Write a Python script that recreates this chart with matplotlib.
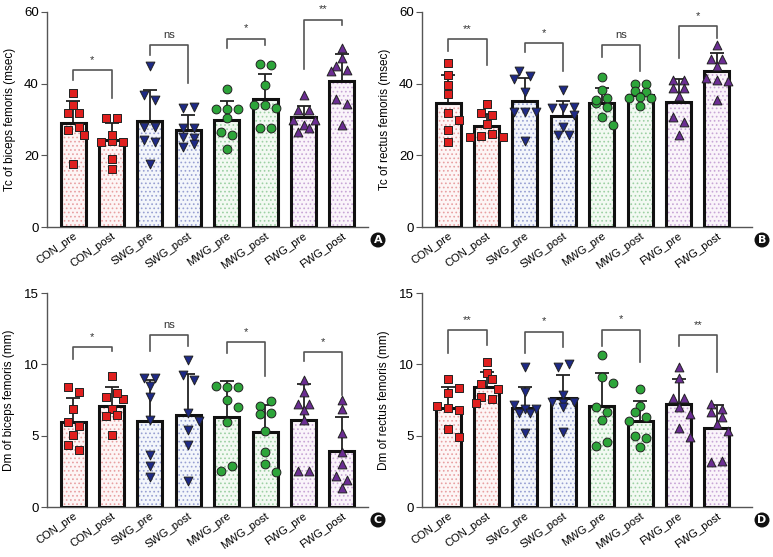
import numpy as np
import matplotlib.pyplot as plt
from matplotlib.patches import Circle

plt.rcParams['font.family'] = ['Liberation Sans', 'DejaVu Sans']
plt.rcParams['hatch.linewidth'] = 0.7

groups = ['CON_pre', 'CON_post', 'SWG_pre', 'SWG_post',
          'MWG_pre', 'MWG_post', 'FWG_pre', 'FWG_post']

# panel A: Tc of biceps femoris
tcb_mean = [29.1, 24.2, 29.7, 27.1, 30.0, 35.6, 30.6, 40.8]
tcb_top = [35.3, 28.9, 38.2, 31.3, 35.3, 42.7, 33.8, 48.3]
tcb_pts = [
    [37.5, 34.0, 31.7, 31.7, 27.1, 27.8, 25.8, 17.7],
    [30.3, 30.3, 23.8, 24.0, 25.8, 23.8, 19.1, 16.3],
    [44.8, 36.8, 35.4, 28.0, 28.0, 24.3, 23.8, 17.7],
    [33.1, 33.6, 27.5, 27.7, 25.2, 24.9, 22.4, 23.1],
    [38.4, 32.9, 32.9, 32.9, 30.3, 26.4, 25.7, 21.7],
    [45.4, 45.1, 39.5, 34.0, 34.0, 33.1, 27.5, 27.5],
    [36.8, 32.6, 32.6, 30.0, 28.5, 30.0, 26.6, 27.5],
    [49.9, 47.1, 45.0, 43.4, 43.7, 35.6, 34.2, 28.5],
]
tcb_sig = ['*', 'ns', '*', '**']
tcb_bracket = [43.7, 50.7, 52.5, 57.8]
tcb_legs = [(41.0, 36.1), (48.0, 40.1), (49.9, 50.7), (44.1, 56.3)]

# panel B: Tc of rectus femoris
tcr_mean = [34.5, 28.3, 35.2, 31.0, 34.7, 36.8, 35.0, 43.4]
tcr_top = [42.5, 31.6, 41.5, 35.3, 38.9, 37.5, 41.3, 48.5]
tcr_pts = [
    [45.7, 42.4, 39.6, 37.0, 31.7, 29.9, 27.2, 23.8],
    [34.2, 31.7, 31.3, 28.7, 25.2, 25.4, 25.9, 25.2],
    [43.4, 41.3, 42.2, 37.6, 32.2, 32.0, 32.0, 24.0],
    [38.2, 33.1, 33.1, 33.6, 31.3, 25.7, 25.7, 28.0],
    [42.0, 38.1, 34.5, 35.4, 36.1, 33.6, 30.8, 28.5],
    [40.0, 40.0, 38.0, 37.8, 36.0, 36.2, 36.0, 33.8],
    [40.9, 41.0, 38.7, 36.6, 30.8, 29.4, 25.7, 38.7],
    [50.8, 46.8, 46.8, 45.0, 41.5, 41.0, 40.8, 35.4],
]
tcr_sig = ['**', '*', 'ns', '*']
tcr_bracket = [52.4, 51.3, 50.8, 56.0]
tcr_legs = [(49.0, 45.2), (48.7, 43.4), (47.4, 43.4), (47.1, 52.7)]

# panel C: Dm of biceps femoris
dmb_mean = [5.98, 7.10, 6.00, 6.45, 6.33, 5.23, 6.12, 3.95]
dmb_top = [7.64, 8.41, 8.93, 9.32, 8.81, 7.17, 8.62, 6.31]
dmb_pts = [
    [8.39, 8.04, 6.87, 5.96, 5.65, 5.02, 4.37, 4.02],
    [9.21, 7.59, 7.69, 7.99, 6.87, 6.36, 6.43, 5.02],
    [9.04, 9.04, 8.46, 7.69, 6.12, 3.67, 2.85, 2.10],
    [10.28, 9.28, 8.93, 6.59, 6.00, 5.42, 4.32, 1.80],
    [8.50, 8.39, 8.41, 7.52, 7.01, 5.96, 2.50, 2.85],
    [7.10, 7.41, 6.52, 6.59, 5.35, 3.83, 3.04, 2.43],
    [8.93, 8.04, 7.24, 7.24, 6.78, 6.12, 2.50, 2.50],
    [7.52, 6.87, 5.19, 3.83, 3.01, 2.20, 1.87, 1.33],
]
dmb_sig = ['*', 'ns', '*', '*']
dmb_bracket = [11.19, 12.03, 11.54, 10.84]
dmb_legs = [(10.4, 10.9), (10.9, 11.3), (10.8, 9.16), (10.2, 7.87)]

# panel D: Dm of rectus femoris
dmr_mean = [6.96, 8.39, 6.96, 7.66, 7.08, 6.05, 7.20, 5.52]
dmr_top = [8.43, 9.48, 8.39, 9.25, 9.39, 7.43, 8.94, 7.15]
dmr_pts = [
    [8.97, 8.36, 7.97, 7.08, 6.92, 6.80, 5.45, 4.94],
    [10.18, 9.36, 8.60, 8.94, 8.27, 7.69, 7.55, 7.27],
    [9.83, 8.08, 7.15, 6.85, 6.85, 6.57, 5.17, 6.60],
    [9.83, 9.99, 7.85, 7.38, 7.31, 7.34, 7.00, 5.24],
    [10.65, 9.13, 8.67, 7.03, 6.69, 6.10, 4.29, 4.59],
    [8.27, 7.10, 6.69, 6.34, 6.03, 5.01, 4.87, 4.19],
    [9.83, 9.06, 7.62, 7.62, 7.03, 6.52, 5.52, 4.94],
    [7.22, 6.64, 6.85, 6.34, 5.82, 5.33, 3.12, 3.24],
]
dmr_sig = ['**', '*', '*', '**']
dmr_bracket = [12.39, 12.28, 12.44, 12.04]
dmr_legs = [(10.76, 11.34), (10.76, 11.2), (11.27, 10.18), (11.27, 9.48)]

pt_color = ['#e0201f', '#e0201f', '#1e2a86', '#1e2a86',
            '#2da53a', '#2da53a', '#6b2d93', '#6b2d93']
pt_marker = ['s', 's', 'v', 'v', 'o', 'o', '^', '^']
bar_face = ['#fdf5f5', '#fdf5f5', '#f3f6fb', '#f3f6fb',
            '#f2f9f2', '#f2f9f2', '#faf4fa', '#faf4fa']
dot_color = ['#e8a0a2', '#e8a0a2', '#98a0d2', '#98a0d2',
             '#9dd0a4', '#9dd0a4', '#c8a6d6', '#c8a6d6']


def swarm(vals, ppu, step_px, diam=9.0):
    # Prism-like scatter: near-equal values share a row, others dodge collisions
    vals = np.asarray(vals, float) * ppu
    order = np.argsort(-vals)
    rows = []
    for idx in order:
        if rows and vals[rows[-1][0]] - vals[idx] < diam * 0.6:
            rows[-1].append(idx)
        else:
            rows.append([idx])
    offs = np.zeros(len(vals))
    placed = []
    for row in rows:
        n = len(row)
        if n > 1:
            for k, idx in enumerate(sorted(row)):
                offs[idx] = (k - (n - 1) / 2.0) * step_px
                placed.append(idx)
            continue
        idx = row[0]
        best, best_d = 0.0, -1.0
        for c in [0, 1, -1]:
            ox = c * step_px
            d = min([np.hypot(ox - offs[j], vals[idx] - vals[j]) for j in placed],
                    default=99.0)
            if d >= diam:
                best = ox
                break
            if d > best_d + 1.0:
                best, best_d = ox, d
        offs[idx] = best
        placed.append(idx)
    return offs


px = 1 / 773.0
py = 1 / 557.0
fig = plt.figure(figsize=(7.73, 5.57), dpi=100)

panels = [
    (tcb_mean, tcb_top, tcb_pts, tcb_sig, tcb_bracket, tcb_legs,
     'Tc of biceps femoris (msec)', 60, 20, (47, 368, 12, 227), 'A'),
    (tcr_mean, tcr_top, tcr_pts, tcr_sig, tcr_bracket, tcr_legs,
     'Tc of rectus femoris (msec)', 60, 20, (422, 752, 12, 227), 'B'),
    (dmb_mean, dmb_top, dmb_pts, dmb_sig, dmb_bracket, dmb_legs,
     'Dm of biceps femoris (mm)', 15, 5, (47, 368, 293, 507), 'C'),
    (dmr_mean, dmr_top, dmr_pts, dmr_sig, dmr_bracket, dmr_legs,
     'Dm of rectus femoris (mm)', 15, 5, (422, 752, 293, 507), 'D'),
]

x = np.arange(len(groups))
bw = 0.65
upx = 38.4  # pixels per category

for mean, top, pts, sig, brk, legs, ylab, ymax, ystep, box, letter in panels:
    l, r, t, b = box
    ax = fig.add_axes([l * px, 1 - b * py, (r - l) * px, (b - t) * py])
    ax.set_xlim(-0.68, (r - l) / upx - 0.68)
    ax.set_ylim(0, ymax)

    # error bars (upper only)
    err = np.array(top) - np.array(mean)
    ax.errorbar(x, mean, yerr=[np.zeros(8), err], fmt='none', ecolor='#222222',
                elinewidth=1.3, capsize=5, capthick=1.3, zorder=1)
    ax.bar(x, mean, bw, color=bar_face, edgecolor=dot_color, hatch='....',
           linewidth=0, zorder=2)
    ax.bar(x, mean, bw, fill=False, edgecolor='#111111', linewidth=2.2, zorder=3)

    ppu = (b - t) / ymax
    for i in range(8):
        offs = swarm(pts[i], ppu, 11.0) / upx
        ax.scatter(x[i] + offs, pts[i], s=40, marker=pt_marker[i], c=pt_color[i],
                   edgecolors='#222222', linewidths=0.7, zorder=4, clip_on=False)

    for g in range(4):
        x0, x1 = x[2 * g], x[2 * g + 1]
        ax.plot([x0, x0, x1, x1], [legs[g][0], brk[g], brk[g], legs[g][1]],
                color='#555555', lw=1.2, zorder=5)
        dy = ymax * 0.025
        ax.text((x0 + x1) / 2, brk[g] + dy, sig[g], ha='center', va='bottom',
                fontsize=8, color='#333333')

    for s in ['top', 'right']:
        ax.spines[s].set_visible(False)
    for s in ['left', 'bottom']:
        ax.spines[s].set_color('#555555')
        ax.spines[s].set_linewidth(1.0)
    ax.set_yticks(np.arange(0, ymax + 1, ystep))
    ax.tick_params(axis='y', length=4, color='#555555', labelsize=9.5, pad=2)
    ax.tick_params(axis='x', length=0, labelsize=8, pad=3)
    ax.set_xticks(x)
    ax.set_xticklabels(groups, rotation=35, ha='right', rotation_mode='anchor')
    ax.set_ylabel(ylab, fontsize=8.5, labelpad=6)

    # panel letter badge
    cx = (r + 10) * px
    cy = 1 - (b + 13) * py
    fig.patches.append(Circle((cx * 773, cy * 557), 7.5, transform=None,
                              facecolor='#111111', edgecolor='none'))
    fig.text(cx, cy, letter, ha='center', va='center', color='white',
             fontsize=8, fontweight='bold', family='DejaVu Sans')

fig.savefig('out.png', dpi=100)
